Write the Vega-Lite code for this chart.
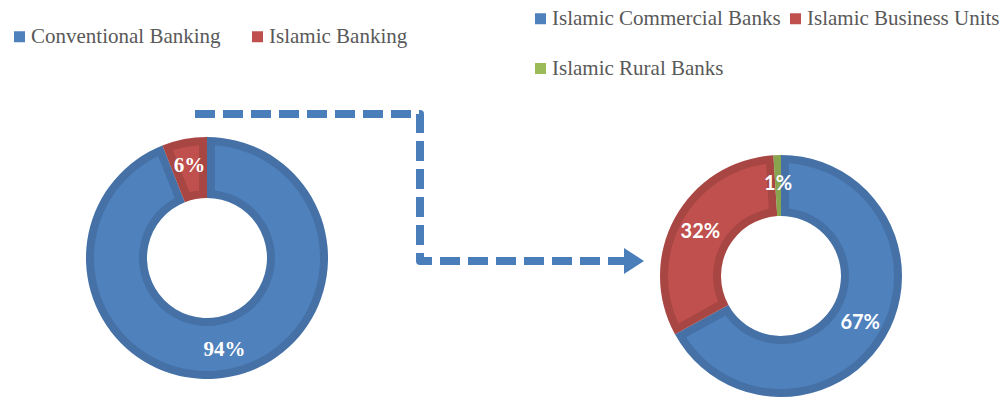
{
  "$schema": "https://vega.github.io/schema/vega-lite/v6.json",
  "width": 1008,
  "height": 410,
  "autosize": "none",
  "padding": 0,
  "background": "white",
  "config": {"view": {"stroke": null}},
  "datasets": {
    "total": [
      {"sector": "Conventional Banking", "share": 94, "label": "94%", "rank": 1},
      {"sector": "Islamic Banking", "share": 6, "label": "6%", "rank": 2}
    ],
    "islamic": [
      {"type": "Islamic Commercial Banks", "share": 67, "label": "67%", "rank": 1},
      {"type": "Islamic Business Units", "share": 32, "label": "32%", "rank": 2},
      {"type": "Islamic Rural Banks", "share": 1, "label": "1%", "rank": 3}
    ],
    "arrow": [
      {"x": 195, "y": 114, "o": 1},
      {"x": 420, "y": 114, "o": 2},
      {"x": 420, "y": 261, "o": 3},
      {"x": 626, "y": 261, "o": 4}
    ],
    "head": [{"x": 634, "y": 261}]
  },
  "resolve": {
    "scale": {"theta": "independent", "color": "independent"},
    "legend": {"color": "independent"}
  },
  "layer": [
    {
      "data": {"name": "total"},
      "encoding": {
        "theta": {"field": "share", "type": "quantitative", "stack": true},
        "order": {"field": "rank", "type": "quantitative"},
        "x": {"datum": 207, "type": "quantitative", "scale": {"domain": [0, 1008], "nice": false, "zero": false}, "axis": null},
        "y": {"datum": 258, "type": "quantitative", "scale": {"domain": [0, 410], "reverse": true, "nice": false, "zero": false}, "axis": null}
      },
      "layer": [
        {
          "mark": {"type": "arc", "radius": 121, "radius2": 60},
          "encoding": {
            "color": {
              "field": "sector", "type": "nominal",
              "scale": {"domain": ["Conventional Banking", "Islamic Banking"], "range": ["#4F81BD", "#C0504D"]},
              "legend": {"orient": "none", "legendX": 9, "legendY": 26, "direction": "horizontal", "columns": 2, "title": null, "symbolType": "square", "symbolSize": 121, "symbolStrokeWidth": 0, "labelFont": "Liberation Serif", "labelFontSize": 21, "labelColor": "#595959", "labelLimit": 400, "columnPadding": 26, "labelOffset": 1}
            }
          }
        },
        {"mark": {"type": "arc", "radius": 121, "radius2": 60, "fill": "black", "fillOpacity": 0.12}},
        {
          "mark": {"type": "arc", "radius": 113, "radius2": 68, "padAngle": 0.12},
          "encoding": {
            "color": {
              "field": "sector", "type": "nominal",
              "scale": {"domain": ["Conventional Banking", "Islamic Banking"], "range": ["#4F81BD", "#C0504D"]},
              "legend": {"orient": "none", "legendX": 9, "legendY": 26, "direction": "horizontal", "columns": 2, "title": null, "symbolType": "square", "symbolSize": 121, "symbolStrokeWidth": 0, "labelFont": "Liberation Serif", "labelFontSize": 21, "labelColor": "#595959", "labelLimit": 400, "columnPadding": 26, "labelOffset": 1}
            }
          }
        },
        {
          "mark": {"type": "text", "radius": 94, "font": "Liberation Serif", "fontWeight": "bold", "fontSize": 21, "fill": "white"},
          "encoding": {"text": {"field": "label", "type": "nominal"}}
        }
      ]
    },
    {
      "data": {"name": "islamic"},
      "encoding": {
        "theta": {"field": "share", "type": "quantitative", "stack": true},
        "order": {"field": "rank", "type": "quantitative"},
        "x": {"datum": 781, "type": "quantitative"},
        "y": {"datum": 276, "type": "quantitative"}
      },
      "layer": [
        {
          "mark": {"type": "arc", "radius": 121, "radius2": 60},
          "encoding": {
            "color": {
              "field": "type", "type": "nominal",
              "scale": {"domain": ["Islamic Commercial Banks", "Islamic Business Units", "Islamic Rural Banks"], "range": ["#4F81BD", "#C0504D", "#9BBB59"]},
              "legend": {"orient": "none", "legendX": 530, "legendY": 8, "direction": "horizontal", "columns": 2, "title": null, "symbolType": "square", "symbolSize": 121, "symbolStrokeWidth": 0, "labelFont": "Liberation Serif", "labelFontSize": 21, "labelColor": "#595959", "labelLimit": 400, "columnPadding": 4, "rowPadding": 28, "labelOffset": 1}
            }
          }
        },
        {"mark": {"type": "arc", "radius": 121, "radius2": 60, "fill": "black", "fillOpacity": 0.12}},
        {
          "mark": {"type": "arc", "radius": 113, "radius2": 68, "padAngle": 0.12},
          "encoding": {
            "color": {
              "field": "type", "type": "nominal",
              "scale": {"domain": ["Islamic Commercial Banks", "Islamic Business Units", "Islamic Rural Banks"], "range": ["#4F81BD", "#C0504D", "#9BBB59"]},
              "legend": {"orient": "none", "legendX": 530, "legendY": 8, "direction": "horizontal", "columns": 2, "title": null, "symbolType": "square", "symbolSize": 121, "symbolStrokeWidth": 0, "labelFont": "Liberation Serif", "labelFontSize": 21, "labelColor": "#595959", "labelLimit": 400, "columnPadding": 4, "rowPadding": 28, "labelOffset": 1}
            }
          }
        },
        {
          "mark": {"type": "text", "radius": 92, "font": "Lato", "fontWeight": "bold", "fontSize": 20, "fill": "white"},
          "encoding": {"text": {"field": "label", "type": "nominal"}}
        }
      ]
    },
    {
      "data": {"name": "arrow"},
      "mark": {"type": "line", "color": "#4A7EBB", "strokeWidth": 8, "strokeDash": [20, 8], "strokeCap": "butt", "strokeJoin": "round"},
      "encoding": {
        "x": {"field": "x", "type": "quantitative"},
        "y": {"field": "y", "type": "quantitative"},
        "order": {"field": "o", "type": "quantitative"}
      }
    },
    {
      "data": {"name": "head"},
      "mark": {"type": "point", "filled": true, "opacity": 1, "color": "#4A7EBB", "shape": "M-0.77,-1L0.77,0L-0.77,1Z", "size": 676},
      "encoding": {
        "x": {"field": "x", "type": "quantitative"},
        "y": {"field": "y", "type": "quantitative"}
      }
    }
  ]
}
